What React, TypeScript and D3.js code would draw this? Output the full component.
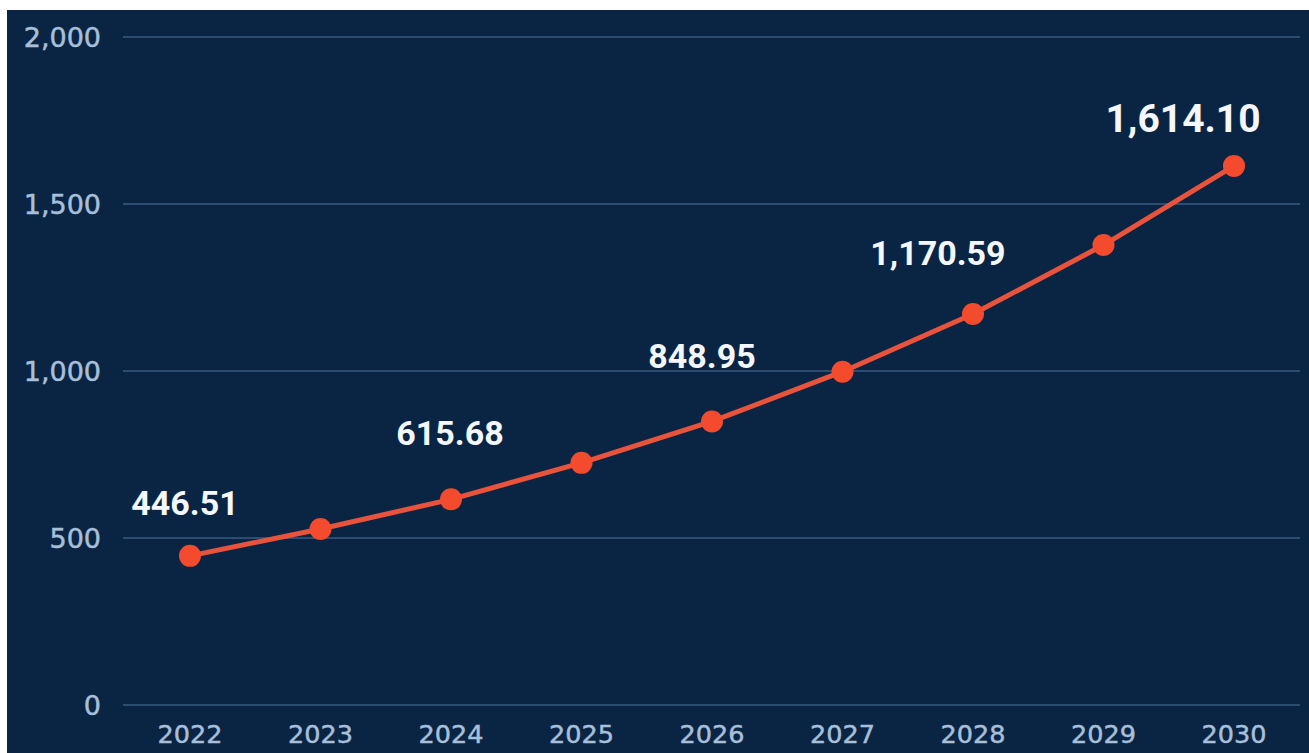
import React from "react";
import * as d3 from "d3";

const years = ["2022", "2023", "2024", "2025", "2026", "2027", "2028", "2029", "2030"];
const values = [446.51, 527, 615.68, 725, 848.95, 998, 1170.59, 1377, 1614.1];
const labeledYears = ["2022", "2024", "2026", "2028", "2030"];
const yTicks = [0, 500, 1000, 1500, 2000];

// label styling (offsets from the point, in px) and font sizes
const labelDx = [-5, -1, -10, -35, -51];
const labelDy = [-41, -54, -53, -49, -34];
const labelSize = [34, 34, 34, 34, 39];

export default function App() {
  const W = 1309, H = 753;
  const x = d3.scalePoint<string>().domain(years).range([190, 1234]);
  const y = d3.scaleLinear().domain([0, 2000]).range([705, 37]);
  const pts = years.map((yr, i) => ({ yr, v: values[i] }));
  const line = d3.line<{ yr: string; v: number }>().x((d) => x(d.yr)!).y((d) => y(d.v));
  const tickFont = "'DejaVu Sans', sans-serif";
  return (
    <svg width={W} height={H} style={{ position: "absolute", left: 0, top: 0, background: "#fff" }}>
      <rect x={7} y={10} width={W - 7} height={H - 10} fill="#0a2543" />
      {yTicks.map((t) => (
        <g key={t}>
          <line x1={123} x2={1300} y1={y(t)} y2={y(t)} stroke="#2c4d70" strokeWidth={2} />
          <text x={101} y={y(t)} dy="0.36em" textAnchor="end" fill="#a7bfd8" stroke="#a7bfd8" strokeWidth={0.5} fontFamily={tickFont} fontSize={27}>
            {d3.format(",")(t)}
          </text>
        </g>
      ))}
      {years.map((yr) => (
        <text key={yr} x={x(yr)} y={743} textAnchor="middle" fill="#a7bfd8" stroke="#a7bfd8" strokeWidth={0.5} fontFamily={tickFont} fontSize={25.5}>
          {yr}
        </text>
      ))}
      <path d={line(pts)!} fill="none" stroke="#e9533c" strokeWidth={5} strokeLinejoin="round" />
      {pts.map((p) => (
        <circle key={p.yr} cx={x(p.yr)} cy={y(p.v)} r={11} fill="#f44b2e" />
      ))}
      {labeledYears.map((yr, i) => {
        const v = values[years.indexOf(yr)];
        return (
          <text
            key={yr}
            x={x(yr)! + labelDx[i]}
            y={y(v) + labelDy[i]}
            textAnchor="middle"
            fill="#f4f7fb"
            fontFamily="Roboto, sans-serif"
            fontWeight={700}
            fontSize={labelSize[i]}
          >
            {d3.format(",.2f")(v)}
          </text>
        );
      })}
    </svg>
  );
}
